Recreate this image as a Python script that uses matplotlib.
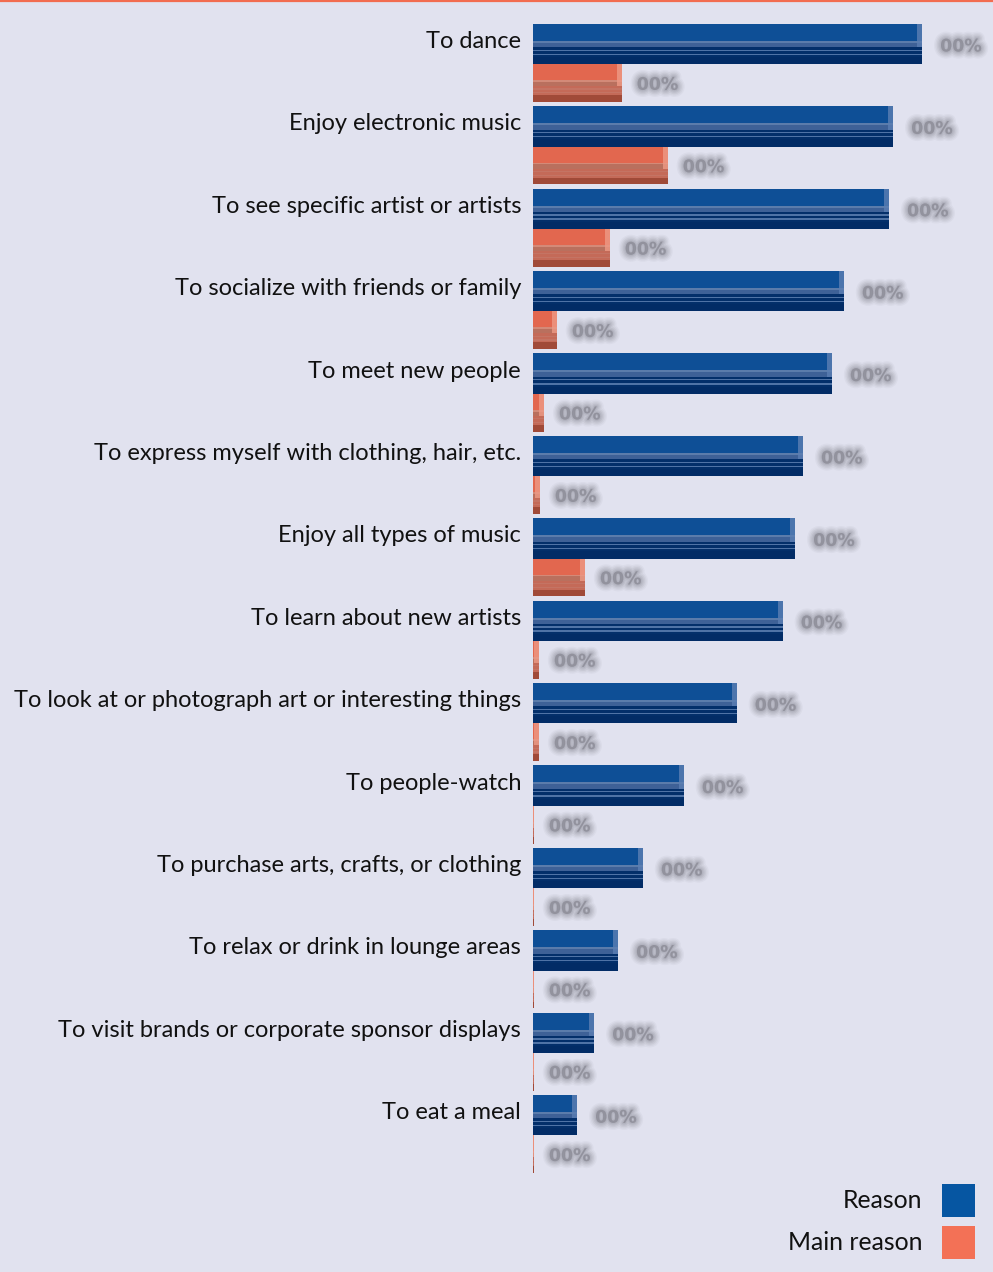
import matplotlib
matplotlib.use("Agg")
import matplotlib.pyplot as plt
from matplotlib.patches import Rectangle
from matplotlib.lines import Line2D
import matplotlib.patheffects as pe
import matplotlib.transforms as mtransforms

# ---- data -------------------------------------------------------------
categories = [
    "To dance",
    "Enjoy electronic music",
    "To see specific artist or artists",
    "To socialize with friends or family",
    "To meet new people",
    "To express myself with clothing, hair, etc.",
    "Enjoy all types of music",
    "To learn about new artists",
    "To look at or photograph art or interesting things",
    "To people-watch",
    "To purchase arts, crafts, or clothing",
    "To relax or drink in lounge areas",
    "To visit brands or corporate sponsor displays",
    "To eat a meal",
]
reason = [84.6, 78.3, 77.4, 67.6, 65.0, 58.7, 57.0, 54.3, 44.3, 32.8, 23.9, 18.5, 13.3, 9.6]
main_reason = [19.3, 29.3, 16.7, 5.2, 2.4, 1.5, 11.3, 1.3, 1.3, 0.2, 0.2, 0.2, 0.2, 0.2]
value_labels_reason = ["00%"] * len(categories)
value_labels_main = ["00%"] * len(categories)
series_names = ["Reason", "Main reason"]
series_colors = ["#0656a2", "#f37156"]

# ---- style ------------------------------------------------------------
BG = "#e1e2ef"
TEXT = "#111111"
BLUE_LAYERS = dict(base="#032f6a", top="#0e4f96", bevel1="#5b7cab",
                   bevel2="#3e6197", stripe="#4f73a6", bottom="#022c66",
                   cap="#5c7fb3")
ORANGE_LAYERS = dict(base="#c46a58", top="#e2674f", bevel1="#d38a78",
                     bevel2="#b9705e", stripe="#c47464", bottom="#a04a38",
                     cap="#ee9a86")

W, H, DPI = 993, 1272, 100
fig = plt.figure(figsize=(W / DPI, H / DPI), dpi=DPI, facecolor=BG)

# axes area in pixels
ax_left, ax_right = 533, 993
ax_top, ax_bottom = 10, 1180
ax = fig.add_axes([ax_left / W, 1 - ax_bottom / H,
                   (ax_right - ax_left) / W, (ax_bottom - ax_top) / H])
ax.set_facecolor(BG)
ax.set_xlim(0, 100)

step_px = 82.4
first_center_px = 44
ax.set_ylim((ax_bottom - first_center_px) / step_px,
            (ax_top - first_center_px) / step_px)
for s in ax.spines.values():
    s.set_visible(False)
ax.set_xticks([])
ax.set_yticks([])

px_per_unit = (ax_right - ax_left) / 100.0
n = len(categories)
idx = list(range(n))
blue_y = idx
blue_h = 0.49
orange_y = [i + 0.475 for i in idx]
orange_h = 0.46


def layered_bars(ypos, vals, h, c):
    """Draw a bevelled, striped bar by stacking horizontal bars."""
    ax.barh(ypos, vals, height=h, color=c["base"], zorder=2)
    # sections: (start fraction from top, end fraction, colour)
    sections = [
        (0.00, 0.42, c["top"]),
        (0.42, 0.47, c["bevel1"]),
        (0.47, 0.58, c["bevel2"]),
        (0.64, 0.67, c["stripe"]),
        (0.74, 0.77, c["stripe"]),
        (0.82, 1.00, c["bottom"]),
    ]
    for f0, f1, col in sections:
        centers = [y - h / 2 + h * (f0 + f1) / 2 for y in ypos]
        ax.barh(centers, vals, height=h * (f1 - f0), color=col, zorder=3)
    # lighter end cap on the right
    cap_w = [min(v, 5 / px_per_unit) for v in vals]
    lefts = [v - w for v, w in zip(vals, cap_w)]
    centers = [y - h / 2 + h * 0.29 for y in ypos]
    ax.barh(centers, cap_w, left=lefts, height=h * 0.58, color=c["cap"],
            alpha=0.8, zorder=4)


layered_bars(blue_y, reason, blue_h, BLUE_LAYERS)
layered_bars(orange_y, main_reason, orange_h, ORANGE_LAYERS)

# value labels: grey with a wide soft halo
GREY = "#84848f"
soft = [
    pe.Stroke(linewidth=10, foreground=GREY, alpha=0.07),
    pe.Stroke(linewidth=8, foreground=GREY, alpha=0.09),
    pe.Stroke(linewidth=6, foreground=GREY, alpha=0.12),
    pe.Stroke(linewidth=4, foreground=GREY, alpha=0.15),
    pe.Stroke(linewidth=2, foreground=GREY, alpha=0.18),
    pe.Normal(),
]


def soft_label(x, y, s):
    ax.text(x, y, s, ha="left", va="center", fontsize=12.5, fontweight="bold",
            color=GREY, alpha=0.35, family="DejaVu Sans", zorder=5,
            path_effects=soft)


for i in idx:
    soft_label(reason[i] + 18 / px_per_unit, blue_y[i] + 0.03,
               value_labels_reason[i])
    xo = max(main_reason[i] + 15 / px_per_unit, 12 / px_per_unit)
    soft_label(xo, orange_y[i] + 0.02, value_labels_main[i])

# category labels, sized so the longest fits the left margin
label_font = "Lato"
renderer = fig.canvas.get_renderer()
probe = fig.text(0, 0, max(categories, key=len), fontsize=20, family=label_font)
w20 = probe.get_window_extent(renderer).width
probe.remove()
label_size = 20 * (521 - 12) / w20

label_tr = mtransforms.offset_copy(ax.transData, fig=fig,
                                   x=-12 * 72 / DPI, y=0, units="points")
for i, cat in enumerate(categories):
    ax.text(0, blue_y[i] - 0.03, cat, transform=label_tr, ha="right",
            va="center", fontsize=label_size, family=label_font, color=TEXT,
            clip_on=False)

# accent line along the top edge
fig.add_artist(Line2D([0, 1], [1 - 1 / H, 1 - 1 / H], transform=fig.transFigure,
                      color="#f26c50", lw=1.6))

# legend: text right-aligned next to square swatches
legend_rows = [(1184, 1217), (1226, 1259)]
for (top, bot), name, col in zip(legend_rows, series_names, series_colors):
    fig.add_artist(Rectangle((942 / W, 1 - bot / H), 33 / W, (bot - top) / H,
                             transform=fig.transFigure, facecolor=col,
                             edgecolor="none"))
    fig.text(922 / W, 1 - ((top + bot) / 2) / H, name, ha="right",
             va="center", fontsize=label_size * 1.05, family=label_font,
             color=TEXT)

fig.savefig("out.png", dpi=DPI, facecolor=BG)
